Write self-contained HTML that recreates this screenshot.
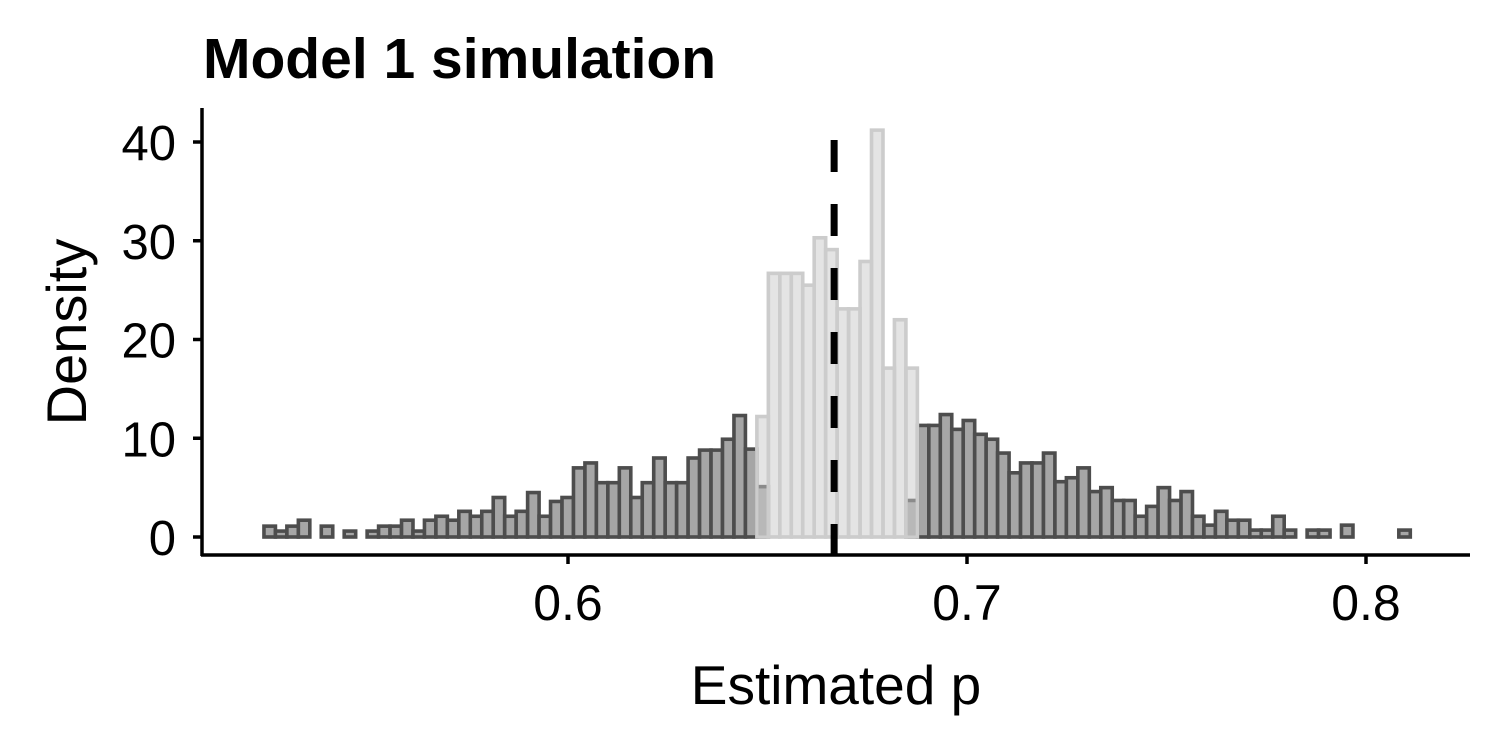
<!DOCTYPE html>
<html><head><meta charset="utf-8"><style>
body{margin:0;background:#fff;}
svg{display:block;font-family:"Liberation Sans",Arial,sans-serif;}
</style></head><body>
<svg id="chart" width="1500" height="750" viewBox="0 0 1500 750">
<text x="203" y="78" font-size="57" font-weight="bold">Model 1 simulation</text>
<g id="bars-dark"></g>
<g id="bars-light"></g>
<g id="axes"></g>
<text transform="translate(86,332) rotate(-90)" text-anchor="middle" font-size="56">Density</text>
<text x="836" y="704" text-anchor="middle" font-size="55">Estimated p</text>
</svg>
<script>
const binStart = 0.52380;
const binWidth = 0.002873;
const darkDensity = [1.1,0.6,1.1,1.7,0,1.1,0,0.6,0,0.6,1.1,1.1,1.7,0.6,1.7,2.1,1.7,2.6,2.1,2.6,4.0,2.1,2.6,4.5,2.1,3.6,4.0,7.0,7.5,5.5,5.5,7.0,4.0,5.5,8.0,5.5,5.5,8.0,8.8,8.8,9.9,12.3,8.9,5.1,0,0,0,0,0,0,0,0,0,0,0,0,3.7,11.3,11.3,12.4,10.9,11.8,10.4,9.9,8.5,6.5,7.5,7.5,8.5,5.6,6.0,7.0,4.6,5.0,3.7,3.7,2.1,3.1,5.0,3.7,4.6,2.1,1.2,2.6,1.7,1.7,0.7,0.7,2.1,0.7,0,0.7,0.7,0,1.2,0,0,0,0,0.7];
const lightStartBin = 43;
const lightDensity = [12.2,26.7,26.7,26.7,25.5,30.3,29.1,23.1,23.1,27.9,41.2,17.1,22.0,17.1];
const yTicks = [0,10,20,30,40];
const xTicks = [0.6,0.7,0.8];
const xTickLabels = ["0.6","0.7","0.8"];
const refValue = 0.6667;

const NS="http://www.w3.org/2000/svg";
const xs = v => 568 + (v-0.6)*3990;
const ys = v => 537 - v*9.875;
function mk(tag, attrs, parent){const e=document.createElementNS(NS,tag);for(const k in attrs)e.setAttribute(k,attrs[k]);parent.appendChild(e);return e;}

const gd=document.getElementById('bars-dark');
darkDensity.forEach((d,i)=>{
  if(d<=0) return;
  const x0=xs(binStart+i*binWidth), x1=xs(binStart+(i+1)*binWidth);
  const r=mk('rect',{x:x0,y:ys(d),width:x1-x0,height:ys(0)-ys(d),fill:'#a6a6a6',stroke:'#4d4d4d','stroke-width':3.6},gd);
  
  
});
const gl=document.getElementById('bars-light');
for(let i=0;i<darkDensity.length;i++){
  const j=i-lightStartBin;
  const d=(j>=0&&j<lightDensity.length)?lightDensity[j]:0;
  const x0=xs(binStart+i*binWidth), x1=xs(binStart+(i+1)*binWidth);
  const r=mk('rect',{x:x0,y:ys(d),width:x1-x0,height:ys(0)-ys(d),fill:'rgba(202,202,202,0.5)',stroke:'#cccccc','stroke-width':3.6},gl);
  
  
}
const ga=document.getElementById('axes');
const ref=mk('line',{x1:xs(refValue),x2:xs(refValue),y1:140,y2:555,stroke:'#000','stroke-width':7,'stroke-dasharray':'32 32'},ga);


const ya=mk('line',{x1:202,x2:202,y1:108,y2:556,stroke:'#000','stroke-width':3.5},ga);


const xa=mk('line',{x1:201,x2:1470,y1:555,y2:555,stroke:'#000','stroke-width':3.5},ga);


yTicks.forEach(t=>{
  const tk=mk('line',{x1:193,x2:202,y1:ys(t),y2:ys(t),stroke:'#000','stroke-width':3.5},ga);
  
  
  const tx=mk('text',{x:176,y:ys(t)+18,'text-anchor':'end','font-size':49},ga);
  tx.textContent=String(t);
  
  
});
xTicks.forEach((t,i)=>{
  const tk=mk('line',{x1:xs(t),x2:xs(t),y1:555,y2:564,stroke:'#000','stroke-width':3.5},ga);
  
  
  const tx=mk('text',{x:xs(t),y:620,'text-anchor':'middle','font-size':50},ga);
  tx.textContent=xTickLabels[i];
  
  
});
</script>
</body></html>
